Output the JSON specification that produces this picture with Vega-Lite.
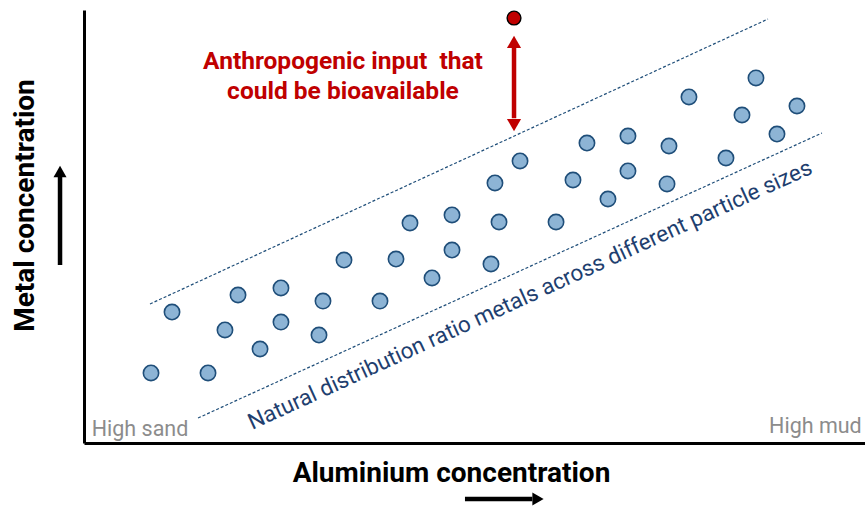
{
  "$schema": "https://vega.github.io/schema/vega-lite/v6.json",
  "width": 781,
  "height": 433,
  "autosize": {"type": "none"},
  "padding": {"left": 84, "top": 10, "right": 0, "bottom": 64},
  "background": "white",
  "config": {
    "view": {"stroke": null},
    "font": "Roboto",
    "axis": {"grid": false, "ticks": false, "labels": false, "domainColor": "black", "domainWidth": 3}
  },
  "datasets": {
    "samples": [
      {"x": 8.58, "y": 16.17}, {"x": 11.27, "y": 30.25}, {"x": 15.88, "y": 16.17},
      {"x": 18.05, "y": 26.10}, {"x": 19.72, "y": 34.18}, {"x": 22.54, "y": 21.71},
      {"x": 25.22, "y": 35.80}, {"x": 25.22, "y": 27.94}, {"x": 30.09, "y": 24.94},
      {"x": 30.60, "y": 32.79}, {"x": 33.29, "y": 42.26}, {"x": 37.90, "y": 32.79},
      {"x": 39.95, "y": 42.49}, {"x": 41.74, "y": 50.81}, {"x": 44.56, "y": 38.11},
      {"x": 47.12, "y": 44.57}, {"x": 47.12, "y": 52.66}, {"x": 52.11, "y": 41.34},
      {"x": 52.62, "y": 60.05}, {"x": 53.14, "y": 51.04}, {"x": 55.83, "y": 65.13},
      {"x": 60.44, "y": 51.04}, {"x": 62.61, "y": 60.74}, {"x": 64.40, "y": 69.28},
      {"x": 67.09, "y": 56.35}, {"x": 69.65, "y": 70.90}, {"x": 69.65, "y": 62.82},
      {"x": 74.65, "y": 59.82}, {"x": 74.90, "y": 68.59}, {"x": 77.46, "y": 79.91},
      {"x": 82.20, "y": 65.82}, {"x": 84.25, "y": 75.75}, {"x": 86.04, "y": 84.30},
      {"x": 88.73, "y": 71.36}, {"x": 91.29, "y": 77.83}
    ],
    "outlier": [{"x": 55.06, "y": 98.15}],
    "band": [
      {"line": "upper", "x": 8.45, "y": 32.10}, {"line": "upper", "x": 87.58, "y": 97.92},
      {"line": "lower", "x": 14.60, "y": 5.77}, {"line": "lower", "x": 94.49, "y": 71.59}
    ],
    "redShaft": [{"x": 55.06, "x2": 55.06, "y": 91.4, "y2": 75.0}],
    "redHeads": [{"x": 55.06, "y": 92.61, "dir": "up"}, {"x": 55.06, "y": 73.44, "dir": "down"}],
    "axisShafts": [
      {"x": -3.07, "x2": -3.07, "y": 41.11, "y2": 61.5},
      {"x": 48.78, "x2": 57.4, "y": -12.93, "y2": -12.93}
    ],
    "axisHeads": [{"x": -3.07, "y": 62.70, "dir": "up"}, {"x": 58.13, "y": -12.93, "dir": "right"}],
    "anthro": [{"x": 33.16, "y": 87.99, "label": "Anthropogenic input\u00a0 that\ncould be bioavailable"}],
    "natural": [{"x": 57.11, "y": 34.18, "label": "Natural distribution ratio metals across different particle sizes"}],
    "sand": [{"x": 0.99, "y": 1.62, "label": "High sand"}],
    "mud": [{"x": 99.58, "y": 2.24, "label": "High mud"}]
  },
  "encoding": {
    "x": {
      "field": "x", "type": "quantitative",
      "scale": {"domain": [0, 100], "nice": false, "zero": false},
      "axis": {"title": "Aluminium concentration", "titleFont": "Roboto", "titleFontSize": 28, "titleFontWeight": "bold", "titleColor": "black", "titleX": 367, "titleY": 30, "titleBaseline": "middle"}
    },
    "y": {
      "field": "y", "type": "quantitative",
      "scale": {"domain": [0, 100], "nice": false, "zero": false},
      "axis": {"title": "Metal concentration", "titleFont": "Roboto", "titleFontSize": 28, "titleFontWeight": "bold", "titleColor": "black", "titleX": -59, "titleY": 195, "titleBaseline": "middle", "titleAngle": 270}
    }
  },
  "layer": [
    {
      "data": {"name": "band"},
      "mark": {"type": "line", "color": "#1F4E79", "strokeWidth": 1.2, "strokeDash": [3, 2]},
      "encoding": {"detail": {"field": "line"}}
    },
    {
      "data": {"name": "samples"},
      "mark": {"type": "point", "filled": true, "fill": "#8DB4D5", "stroke": "#1F4E79", "strokeWidth": 1.6, "size": 235, "opacity": 1, "shape": "circle"}
    },
    {
      "data": {"name": "outlier"},
      "mark": {"type": "point", "filled": true, "fill": "#C00000", "stroke": "black", "strokeWidth": 1.4, "size": 190, "opacity": 1, "shape": "circle"}
    },
    {
      "data": {"name": "redShaft"},
      "mark": {"type": "rule", "color": "#C00000", "strokeWidth": 4.5},
      "encoding": {"x2": {"field": "x2"}, "y2": {"field": "y2"}}
    },
    {
      "data": {"name": "redHeads"},
      "mark": {"type": "point", "filled": true, "color": "#C00000", "opacity": 1, "size": 200},
      "encoding": {"shape": {"field": "dir", "type": "nominal", "scale": {"domain": ["up", "down", "right"], "range": ["triangle-up", "triangle-down", "triangle-right"]}, "legend": null}}
    },
    {
      "data": {"name": "axisShafts"},
      "mark": {"type": "rule", "color": "black", "strokeWidth": 4.5},
      "encoding": {"x2": {"field": "x2"}, "y2": {"field": "y2"}}
    },
    {
      "data": {"name": "axisHeads"},
      "mark": {"type": "point", "filled": true, "color": "black", "opacity": 1, "size": 170},
      "encoding": {"shape": {"field": "dir", "type": "nominal", "scale": {"domain": ["up", "down", "right"], "range": ["triangle-up", "triangle-down", "triangle-right"]}, "legend": null}}
    },
    {
      "data": {"name": "anthro"},
      "mark": {"type": "text", "color": "#C00000", "font": "Roboto", "fontSize": 24.5, "fontWeight": "bold", "align": "center", "baseline": "middle", "lineBreak": "\n", "lineHeight": 30},
      "encoding": {"text": {"field": "label"}}
    },
    {
      "data": {"name": "natural"},
      "mark": {"type": "text", "color": "#1F3F6F", "font": "Roboto", "fontSize": 22.5, "align": "center", "baseline": "middle", "angle": 335.4},
      "encoding": {"text": {"field": "label"}}
    },
    {
      "data": {"name": "sand"},
      "mark": {"type": "text", "color": "#8C8C8C", "font": "Roboto", "fontSize": 21.5, "align": "left", "baseline": "alphabetic"},
      "encoding": {"text": {"field": "label"}}
    },
    {
      "data": {"name": "mud"},
      "mark": {"type": "text", "color": "#8C8C8C", "font": "Roboto", "fontSize": 21.5, "align": "right", "baseline": "alphabetic"},
      "encoding": {"text": {"field": "label"}}
    }
  ]
}
